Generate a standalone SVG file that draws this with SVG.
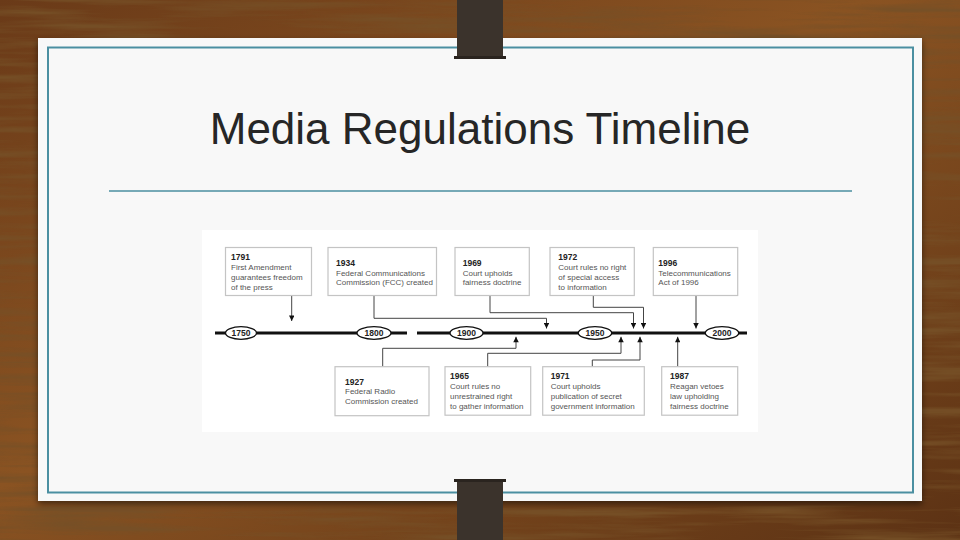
<svg xmlns="http://www.w3.org/2000/svg" width="960" height="540" viewBox="0 0 960 540">
<defs>
<linearGradient id="wood" x1="0" y1="0" x2="1" y2="1">
<stop offset="0" stop-color="#6a3a18"/>
<stop offset="0.45" stop-color="#8a5322"/>
<stop offset="1" stop-color="#5c3214"/>
</linearGradient>
<filter id="grain" x="0" y="0" width="100%" height="100%">
<feTurbulence type="fractalNoise" baseFrequency="0.006 0.12" numOctaves="4" seed="7"/>
<feColorMatrix type="matrix" values="0 0 0 0 0.18  0 0 0 0 0.08  0 0 0 0 0.02  0 0 0 2.6 -1.05"/>
</filter>
<filter id="shadow" x="-5%" y="-5%" width="110%" height="115%">
<feGaussianBlur in="SourceAlpha" stdDeviation="3"/>
<feOffset dy="3"/>
<feComponentTransfer><feFuncA type="linear" slope="0.5"/></feComponentTransfer>
<feMerge><feMergeNode/><feMergeNode in="SourceGraphic"/></feMerge>
</filter>
<marker id="arr" viewBox="0 0 10 10" refX="10" refY="5" markerWidth="7" markerHeight="5.5" markerUnits="userSpaceOnUse" orient="auto">
<path d="M0,0 L10,5 L0,10 z" fill="#111"/>
</marker>
<style>
.box{fill:#fff;stroke:#c4c4c4;stroke-width:1.2}
.yr{font-family:"Liberation Sans",Arial,sans-serif;font-size:8.5px;font-weight:bold;fill:#222}
.tx{font-family:"Liberation Sans",Arial,sans-serif;font-size:8px;fill:#555}
.conn{fill:none;stroke:#444;stroke-width:1}
.ell{fill:#fff;stroke:#111;stroke-width:1.3}
.et{font-family:"Liberation Sans",Arial,sans-serif;font-size:8.5px;font-weight:bold;fill:#222;text-anchor:middle}
.strap{fill:#3b332c}
</style>
</defs>
<!-- wood background -->
<rect width="960" height="540" fill="url(#wood)"/>
<rect width="960" height="540" filter="url(#grain)" opacity="0.9"/>
<!-- card -->
<rect x="38" y="38" width="884" height="463" fill="#f8f8f8" filter="url(#shadow)"/>
<rect x="48" y="47.5" width="865" height="445" fill="none" stroke="#4b8fa1" stroke-width="2"/>
<!-- straps -->
<rect class="strap" x="457" y="0" width="46" height="58"/>
<rect x="454" y="56" width="52" height="3" fill="#2a241f"/>
<rect class="strap" x="457" y="481" width="46" height="59"/>
<rect x="454" y="479" width="52" height="3" fill="#2a241f"/>
<!-- title -->
<text x="480" y="144" font-family="'Liberation Sans',Arial,sans-serif" font-size="44" fill="#262626" text-anchor="middle">Media Regulations Timeline</text>
<line x1="109" y1="191" x2="852" y2="191" stroke="#4b8fa1" stroke-width="1.6"/>
<!-- diagram panel -->
<rect x="202" y="230" width="556" height="202" fill="#fff"/>
<!-- timeline -->
<g id="timeline">
<line x1="215" y1="333" x2="407" y2="333" stroke="#111" stroke-width="3"/>
<line x1="417" y1="333" x2="747" y2="333" stroke="#111" stroke-width="3"/>
<g id="t1750"><ellipse class="ell" cx="241" cy="333" rx="15.5" ry="6.3"/><text class="et" x="241" y="336">1750</text></g>
<g id="t1800"><ellipse class="ell" cx="374" cy="333" rx="17" ry="6.3"/><text class="et" x="374" y="336">1800</text></g>
<g id="t1900"><ellipse class="ell" cx="466.5" cy="333" rx="16.5" ry="6.3"/><text class="et" x="466.5" y="336">1900</text></g>
<g id="t1950"><ellipse class="ell" cx="595" cy="333" rx="16.7" ry="6.3"/><text class="et" x="595" y="336">1950</text></g>
<g id="t2000"><ellipse class="ell" cx="722" cy="333" rx="16.7" ry="6.3"/><text class="et" x="722" y="336">2000</text></g>
</g>
<!-- connectors -->
<g id="connectors">
<path class="conn" d="M291.7,296 V321" marker-end="url(#arr)"/>
<path class="conn" d="M374,296 V318.3 H546.5 V328.5" marker-end="url(#arr)"/>
<path class="conn" d="M490,296 V312.7 H633.5 V328.5" marker-end="url(#arr)"/>
<path class="conn" d="M593.3,296 V307.3 H643.5 V328.5" marker-end="url(#arr)"/>
<path class="conn" d="M696,296 V328.5" marker-end="url(#arr)"/>
<path class="conn" d="M382.7,366.7 V348.3 H516 V336.8" marker-end="url(#arr)"/>
<path class="conn" d="M487.7,366.7 V353.3 H621 V336.8" marker-end="url(#arr)"/>
<path class="conn" d="M592.3,366.7 V360 H640 V336.8" marker-end="url(#arr)"/>
<path class="conn" d="M677.7,366.7 V336.8" marker-end="url(#arr)"/>
</g>
<!-- top boxes -->
<g id="e1791">
<rect class="box" x="225.5" y="247.5" width="86" height="48"/>
<text class="yr" x="231" y="259.5">1791</text>
<text class="tx" x="231" y="269.5">First Amendment</text>
<text class="tx" x="231" y="280">guarantees freedom</text>
<text class="tx" x="231" y="290">of the press</text>
</g>
<g id="e1934">
<rect class="box" x="328" y="247.5" width="108.5" height="48"/>
<text class="yr" x="336" y="265.5">1934</text>
<text class="tx" x="336" y="275.5">Federal Communications</text>
<text class="tx" x="336" y="285.3">Commission (FCC) created</text>
</g>
<g id="e1969">
<rect class="box" x="455" y="247.5" width="74.3" height="48"/>
<text class="yr" x="462.7" y="265.5">1969</text>
<text class="tx" x="462.7" y="275.5">Court upholds</text>
<text class="tx" x="462.7" y="285.3">fairness doctrine</text>
</g>
<g id="e1972">
<rect class="box" x="550" y="247.5" width="84.3" height="48"/>
<text class="yr" x="558.3" y="259.5">1972</text>
<text class="tx" x="558.3" y="269.5">Court rules no right</text>
<text class="tx" x="558.3" y="279.5">of special access</text>
<text class="tx" x="558.3" y="289.5">to information</text>
</g>
<g id="e1996">
<rect class="box" x="653.3" y="247.5" width="84.4" height="48"/>
<text class="yr" x="658.3" y="265.5">1996</text>
<text class="tx" x="658.3" y="275.5">Telecommunications</text>
<text class="tx" x="658.3" y="285.3">Act of 1996</text>
</g>
<!-- bottom boxes -->
<g id="e1927">
<rect class="box" x="335" y="366.7" width="94" height="49"/>
<text class="yr" x="345" y="384.7">1927</text>
<text class="tx" x="345" y="394.3">Federal Radio</text>
<text class="tx" x="345" y="404">Commission created</text>
</g>
<g id="e1965">
<rect class="box" x="445" y="366.7" width="85.7" height="48.5"/>
<text class="yr" x="450" y="379">1965</text>
<text class="tx" x="450" y="389.3">Court rules no</text>
<text class="tx" x="450" y="399.3">unrestrained right</text>
<text class="tx" x="450" y="409.3">to gather information</text>
</g>
<g id="e1971">
<rect class="box" x="542.7" y="366.7" width="101.6" height="48.5"/>
<text class="yr" x="550.7" y="379">1971</text>
<text class="tx" x="550.7" y="389.3">Court upholds</text>
<text class="tx" x="550.7" y="399.3">publication of secret</text>
<text class="tx" x="550.7" y="409.3">government information</text>
</g>
<g id="e1987">
<rect class="box" x="661.7" y="366.7" width="76" height="48.5"/>
<text class="yr" x="670" y="379">1987</text>
<text class="tx" x="670" y="389.3">Reagan vetoes</text>
<text class="tx" x="670" y="399.3">law upholding</text>
<text class="tx" x="670" y="409.3">fairness doctrine</text>
</g>
</svg>
